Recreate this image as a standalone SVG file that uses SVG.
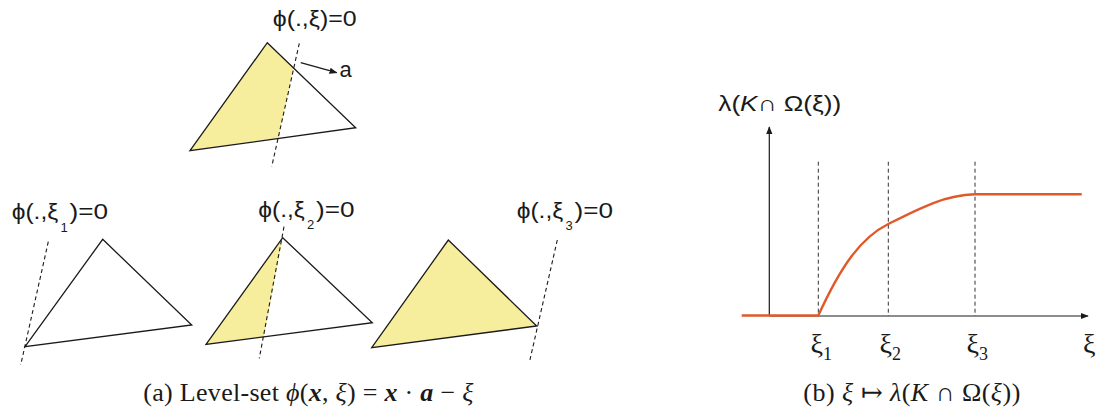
<svg xmlns="http://www.w3.org/2000/svg" width="1101" height="412" viewBox="0 0 1101 412">
<defs>
<style>
.tri{fill:none;stroke:#1a1a1a;stroke-width:1.3;stroke-linejoin:miter}
.fill{fill:#f6ee9c;stroke:none}
.dash{fill:none;stroke:#1a1a1a;stroke-width:1.1;stroke-dasharray:4 3}
.vdash{fill:none;stroke:#333;stroke-width:1;stroke-dasharray:4 3}
.ax{fill:none;stroke:#1a1a1a;stroke-width:1.2}
.curve{fill:none;stroke:#e0592a;stroke-width:2.4}
.lbl{font-family:"Liberation Sans","Open Sans",sans-serif;font-size:22px;fill:#1a1a1a}
.sub{font-family:"Liberation Sans","Open Sans",sans-serif;font-size:13px;fill:#1a1a1a}
.math{font-family:"Liberation Serif","DejaVu Serif",serif;font-size:28px;fill:#1a1a1a}
.cap{font-family:"Liberation Serif","DejaVu Serif",serif;font-size:26px;fill:#1a1a1a}
</style>
<marker id="arr" viewBox="0 0 10 10" refX="9" refY="5" markerWidth="8" markerHeight="8" markerUnits="userSpaceOnUse" orient="auto">
<path d="M0,1 L10,5 L0,9 z" fill="#1a1a1a"/>
</marker>
</defs>

<g id="tri-top">
<polygon class="fill" points="267.3,42.7 293.3,68.3 278.7,137.7 190,150.7"/>
<polygon class="tri" points="267.3,42.7 355.7,127.7 190,150.7"/>
<line class="dash" x1="299.3" y1="43.3" x2="271.7" y2="166.7"/>
<line class="ax" x1="300.7" y1="62.7" x2="336.7" y2="72.7" marker-end="url(#arr)"/>
<text class="lbl" x="339.5" y="77">a</text>
<text class="lbl" x="272.7" y="26" textLength="84" lengthAdjust="spacingAndGlyphs">ϕ(.,ξ)=0</text>
</g>

<g id="tri-1">
<polygon class="tri" points="102.7,239.3 191.7,325 25,346.7"/>
<line class="dash" x1="48.3" y1="241.7" x2="20.7" y2="365"/>
<text class="lbl" x="11.7" y="219.3" textLength="46.5" lengthAdjust="spacingAndGlyphs">ϕ(.,ξ</text>
<text class="sub" x="60.5" y="231.5">1</text>
<text class="lbl" x="69.5" y="219.3" textLength="38.5" lengthAdjust="spacingAndGlyphs">)=0</text>
</g>

<g id="tri-2">
<polygon class="fill" points="282.7,237.7 264,336.7 206,344.3"/>
<polygon class="tri" points="282.7,237.7 372.3,322.7 206,344.3"/>
<line class="dash" x1="284" y1="226.7" x2="259.3" y2="358.3"/>
<text class="lbl" x="258.3" y="216.7" textLength="46.5" lengthAdjust="spacingAndGlyphs">ϕ(.,ξ</text>
<text class="sub" x="307" y="228.5">2</text>
<text class="lbl" x="316" y="216.7" textLength="38.5" lengthAdjust="spacingAndGlyphs">)=0</text>
</g>

<g id="tri-3">
<polygon class="fill" points="448.3,240 536.7,326 371.7,347.7"/>
<polygon class="tri" points="448.3,240 536.7,326 371.7,347.7"/>
<line class="dash" x1="557.3" y1="240" x2="529.3" y2="362.7"/>
<text class="lbl" x="516.7" y="217.7" textLength="46.5" lengthAdjust="spacingAndGlyphs">ϕ(.,ξ</text>
<text class="sub" x="565.5" y="229.5">3</text>
<text class="lbl" x="574.5" y="217.7" textLength="38.5" lengthAdjust="spacingAndGlyphs">)=0</text>
</g>

<g id="chart">
<line class="ax" x1="769.3" y1="316" x2="769.3" y2="127" marker-end="url(#arr)"/>
<line class="ax" x1="769.3" y1="316" x2="1088" y2="316" marker-end="url(#arr)"/>
<line class="vdash" x1="818.3" y1="161.7" x2="818.3" y2="316"/>
<line class="vdash" x1="888.3" y1="161.7" x2="888.3" y2="316"/>
<line class="vdash" x1="975" y1="161.7" x2="975" y2="316"/>
<path class="curve" d="M741.7,315.5 L818.3,315.5 C840,268 860,238 888.3,224 C920,208 945,195 975,194.3 L1081.7,194.3"/>
<text class="lbl" x="718.3" y="111" font-size="24" textLength="123" lengthAdjust="spacingAndGlyphs">λ(<tspan font-style="italic">K</tspan>∩ Ω(ξ))</text>
<text class="math" x="810.5" y="353">ξ<tspan font-size="18" dy="7">1</tspan></text>
<text class="math" x="879.5" y="353">ξ<tspan font-size="18" dy="7">2</tspan></text>
<text class="math" x="966.5" y="353">ξ<tspan font-size="18" dy="7">3</tspan></text>
<text class="math" x="1083" y="353">ξ</text>
</g>

<g id="captions">
<text class="cap" x="143.3" y="401" textLength="330" lengthAdjust="spacing">(a) Level-set <tspan font-style="italic">ϕ</tspan>(<tspan font-style="italic" font-weight="bold">x</tspan>, <tspan font-style="italic">ξ</tspan>) = <tspan font-style="italic" font-weight="bold">x</tspan> · <tspan font-style="italic" font-weight="bold">a</tspan> − <tspan font-style="italic">ξ</tspan></text>
<text class="cap" x="803.3" y="401" textLength="217" lengthAdjust="spacing">(b) <tspan font-style="italic">ξ</tspan> ↦ <tspan font-style="italic">λ</tspan>(<tspan font-style="italic">K</tspan> ∩ Ω(<tspan font-style="italic">ξ</tspan>))</text>
</g>
</svg>
